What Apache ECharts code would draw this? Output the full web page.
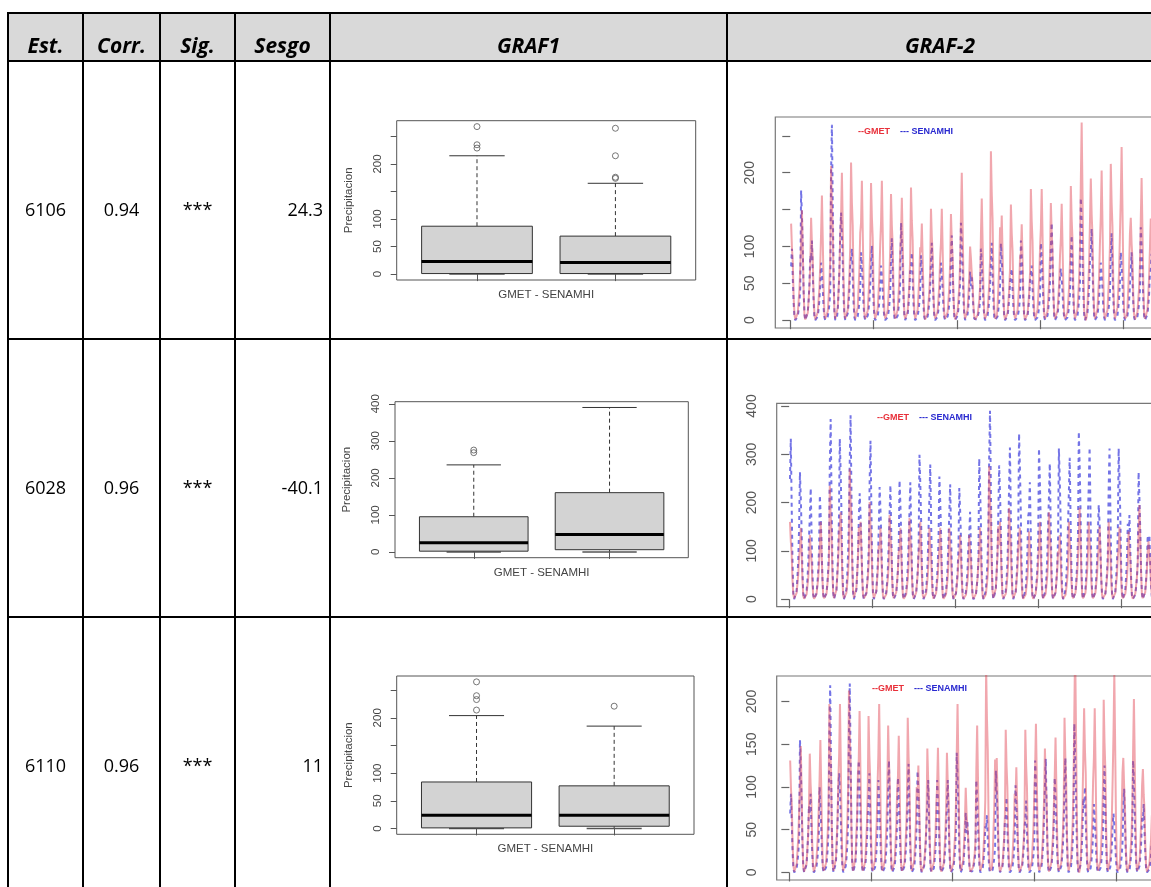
<!DOCTYPE html>
<html><head><meta charset="utf-8">
<script src="https://cdn.jsdelivr.net/npm/echarts@6/dist/echarts.min.js"></script>
<style>html,body{margin:0;padding:0;background:#fff;overflow:hidden;}#c{width:1300px;height:887px;}</style>
</head><body><div id="c"></div>
<script>
// ---------- table content ----------
const headers = ['Est.', 'Corr.', 'Sig.', 'Sesgo', 'GRAF1', 'GRAF-2'];
const stations = ['6106', '6028', '6110'];
const corr = ['0.94', '0.96', '0.96'];
const sig = ['***', '***', '***'];
const sesgo = ['24.3', '-40.1', '11'];

// ---------- GRAF1: boxplot stats [min, Q1, median, Q3, upper whisker] ----------
const boxNames = ['GMET', 'SENAMHI'];
const box1 = [[0, 1, 23, 87, 215], [0, 1, 21, 69, 165]];
const outliers1 = [[268, 235, 229], [265, 215, 176, 174]];
const box2 = [[0, 2, 25, 95, 235], [0, 6, 47, 160, 390]];
const outliers2 = [[275, 268], []];
const box3 = [[0, 1, 24, 84, 204], [0, 4, 24, 77, 185]];
const outliers3 = [[265, 240, 233, 214], [221]];

const boxTicks1 = [0, 50, 100, 150, 200, 250];
const boxLabels1 = [0, 50, 100, 200];
const boxTicks2 = [0, 100, 200, 300, 400];
const boxLabels2 = [0, 100, 200, 300, 400];
const boxTicks3 = [0, 50, 100, 150, 200, 250];
const boxLabels3 = [0, 50, 100, 200];

// ---------- GRAF-2: monthly series (visible part) ----------
const tsTicksX = [0, 100, 200, 300, 400];
const tsTicks1 = [0, 50, 100, 150, 200, 250];
const tsLabels1 = [0, 50, 100, 200];
const tsTicks2 = [0, 100, 200, 300, 400];
const tsLabels2 = [0, 100, 200, 300, 400];
const tsTicks3 = [0, 50, 100, 150, 200];
const tsLabels3 = [0, 50, 100, 150, 200];

const gmet1 = [
131,98,79,33,8,1,0,3,10,26,42,72,
104,149,97,42,7,1,0,3,10,27,45,75,
139,104,83,35,8,1,0,3,11,28,44,76,
118,169,110,47,8,2,0,3,12,30,51,85,
209,157,125,52,13,2,0,4,17,42,67,115,
140,200,130,56,10,2,0,4,14,36,60,100,
214,160,128,54,13,2,0,4,17,43,68,118,
132,189,123,53,9,2,0,4,13,34,57,95,
186,140,112,47,11,2,0,4,15,37,60,102,
132,189,123,53,9,2,0,4,13,34,57,95,
171,128,103,43,10,2,0,3,14,34,55,94,
116,166,108,46,8,2,0,3,12,30,50,83,
180,135,108,45,11,2,0,4,14,36,58,99,
92,131,85,37,7,1,0,3,9,24,39,66,
151,113,91,38,9,2,0,3,12,30,48,83,
106,151,98,42,8,2,0,3,11,27,45,76,
144,108,86,36,9,1,0,3,12,29,46,79,
140,200,130,56,10,2,0,4,14,36,60,100,
84,63,50,21,5,1,0,2,7,17,27,46,
116,165,107,46,8,2,0,3,12,30,50,83,
229,172,137,57,14,2,0,5,18,46,73,126,
99,142,92,40,7,1,0,3,10,26,43,71,
157,118,94,39,9,2,0,3,13,31,50,86,
91,130,85,36,7,1,0,3,9,23,39,65,
178,134,107,45,11,2,0,4,14,36,57,98,
125,178,116,50,9,2,0,4,12,32,53,89,
159,119,95,40,10,2,0,3,13,32,51,87,
111,158,103,44,8,2,0,3,11,28,47,79,
182,137,109,46,11,2,0,4,15,36,58,100,
188,268,174,75,13,3,0,5,19,48,80,134,
192,144,115,48,12,2,0,4,15,38,61,106,
142,203,132,57,10,2,0,4,14,37,61,102,
212,159,127,53,13,2,0,4,17,42,68,117,
165,235,153,66,12,2,0,5,16,42,71,118,
139,104,83,35,8,1,0,3,11,28,44,76,
135,193,125,54,10,2,0,4,14,35,58,97,
138,104,83,35,8,1,0,3,11,28,44,76
];
const senamhi1 = [
73,97,58,24,4,0,0,1,5,14,24,44,
176,141,97,39,9,0,0,2,11,26,49,88,
81,108,65,27,4,0,0,1,5,15,27,49,
78,62,43,17,4,0,0,1,5,12,22,39,
199,265,159,66,11,0,0,3,13,37,66,119,
146,117,80,32,7,0,0,1,9,22,41,73,
73,97,58,24,4,0,0,1,5,14,24,44,
92,74,51,20,5,0,0,1,6,14,26,46,
76,101,61,25,4,0,0,1,5,14,25,45,
74,59,41,16,4,0,0,1,4,11,21,37,
83,111,67,28,4,0,0,1,6,16,28,50,
132,106,73,29,7,0,0,1,8,20,37,66,
69,92,55,23,4,0,0,1,5,13,23,41,
88,70,48,19,4,0,0,1,5,13,25,44,
79,105,63,26,4,0,0,1,5,15,26,47,
78,62,43,17,4,0,0,1,5,12,22,39,
86,115,69,29,5,0,0,1,6,16,29,52,
132,106,73,29,7,0,0,1,8,20,37,66,
46,61,37,15,2,0,0,1,3,9,15,27,
97,78,53,21,5,0,0,1,6,15,27,49,
79,105,63,26,4,0,0,1,5,15,26,47,
104,83,57,23,5,0,0,1,6,16,29,52,
53,70,42,18,3,0,0,1,4,10,18,32,
108,86,59,24,5,0,0,1,6,16,30,54,
56,74,44,19,3,0,0,1,4,10,19,33,
105,84,58,23,5,0,0,1,6,16,29,53,
99,132,79,33,5,0,0,1,7,18,33,59,
70,56,39,15,4,0,0,1,4,11,20,35,
86,115,69,29,5,0,0,1,6,16,29,52,
166,133,91,37,8,0,0,2,10,25,46,83,
93,124,74,31,5,0,0,1,6,17,31,56,
78,62,43,17,4,0,0,1,5,12,22,39,
89,118,71,30,5,0,0,1,6,17,30,53,
92,74,51,20,5,0,0,1,6,14,26,46,
69,92,55,23,4,0,0,1,5,13,23,41,
126,101,69,28,6,0,0,1,8,19,35,63,
68,90,54,23,4,0,0,1,5,13,23,41
];
const gmet2 = [
160,120,96,40,10,2,0,3,13,32,51,88,
104,148,96,41,7,1,0,3,10,27,44,74,
133,100,80,33,8,1,0,3,11,27,43,73,
112,160,104,45,8,2,0,3,11,29,48,80,
235,176,141,59,14,2,0,5,19,47,75,129,
126,180,117,50,9,2,0,4,13,32,54,90,
270,203,162,68,16,3,0,5,22,54,86,149,
112,160,104,45,8,2,0,3,11,29,48,80,
201,151,121,50,12,2,0,4,16,40,64,111,
104,148,96,41,7,1,0,3,10,27,44,74,
174,131,104,44,10,2,0,3,14,35,56,96,
104,148,96,41,7,1,0,3,10,27,44,74,
168,126,101,42,10,2,0,3,13,34,54,92,
112,160,104,45,8,2,0,3,11,29,48,80,
148,111,89,37,9,1,0,3,12,30,47,81,
104,148,96,41,7,1,0,3,10,27,44,74,
148,111,89,37,9,1,0,3,12,30,47,81,
93,133,86,37,7,1,0,3,9,24,40,67,
133,100,80,33,8,1,0,3,11,27,43,73,
104,148,96,41,7,1,0,3,10,27,44,74,
275,206,165,69,17,3,0,6,22,55,88,151,
112,160,104,45,8,2,0,3,11,29,48,80,
189,142,113,47,11,2,0,4,15,38,60,104,
104,148,96,41,7,1,0,3,10,27,44,74,
140,105,84,35,8,1,0,3,11,28,45,77,
112,160,104,45,8,2,0,3,11,29,48,80,
180,135,108,45,11,2,0,4,14,36,58,99,
93,133,86,37,7,1,0,3,9,24,40,67,
160,120,96,40,10,2,0,3,13,32,51,88,
132,189,123,53,9,2,0,4,13,34,57,95,
160,120,96,40,10,2,0,3,13,32,51,88,
105,150,98,42,8,2,0,3,11,27,45,75,
160,120,96,40,10,2,0,3,13,32,51,88,
105,150,98,42,8,2,0,3,11,27,45,75,
140,105,84,35,8,1,0,3,11,28,45,77,
137,195,127,55,10,2,0,4,14,35,59,98,
120,90,72,30,7,1,0,2,10,24,38,66
];
const senamhi2 = [
249,332,199,83,13,0,0,3,17,46,83,149,
263,210,145,58,13,0,0,3,16,39,74,132,
173,230,138,58,9,0,0,2,12,32,58,104,
215,172,118,47,11,0,0,2,13,32,60,108,
280,373,224,93,15,0,0,4,19,52,93,168,
332,266,183,73,17,0,0,3,20,50,93,166,
286,381,229,95,15,0,0,4,19,53,95,171,
219,175,120,48,11,0,0,2,13,33,61,110,
246,328,197,82,13,0,0,3,16,46,82,148,
232,186,128,51,12,0,0,2,14,35,65,116,
177,236,142,59,9,0,0,2,12,33,59,106,
246,197,135,54,12,0,0,2,15,37,69,123,
182,242,145,61,10,0,0,2,12,34,61,109,
299,239,164,66,15,0,0,3,18,45,84,150,
209,279,167,70,11,0,0,3,14,39,70,126,
254,203,140,56,13,0,0,3,15,38,71,127,
179,238,143,60,10,0,0,2,12,33,60,107,
230,184,127,51,12,0,0,2,14,35,64,115,
136,181,109,45,7,0,0,2,9,25,45,81,
291,233,160,64,15,0,0,3,17,44,81,146,
293,390,234,98,16,0,0,4,20,55,98,176,
277,222,152,61,14,0,0,3,17,42,78,139,
236,314,188,79,13,0,0,3,16,44,79,141,
343,274,189,75,17,0,0,3,21,51,96,172,
182,242,145,61,10,0,0,2,12,34,61,109,
312,250,172,69,16,0,0,3,19,47,87,156,
211,281,169,70,11,0,0,3,14,39,70,126,
312,250,172,69,16,0,0,3,19,47,87,156,
220,293,176,73,12,0,0,3,15,41,73,132,
347,278,191,76,17,0,0,3,21,52,97,174,
236,314,188,79,13,0,0,3,16,44,79,141,
195,156,107,43,10,0,0,2,12,29,55,98,
234,312,187,78,12,0,0,3,16,44,78,140,
312,250,172,69,16,0,0,3,19,47,87,156,
131,174,104,44,7,0,0,2,9,24,44,78,
263,210,145,58,13,0,0,3,16,39,74,132,
100,133,80,33,5,0,0,1,7,19,33,60
];
const gmet3 = [
131,98,79,33,8,1,0,3,10,26,42,72,
104,148,96,41,7,1,0,3,10,27,44,74,
139,104,83,35,8,1,0,3,11,28,44,76,
109,155,101,43,8,2,0,3,11,28,47,78,
197,148,118,49,12,2,0,4,16,39,63,108,
138,197,128,55,10,2,0,4,14,35,59,99,
213,160,128,53,13,2,0,4,17,43,68,117,
132,189,123,53,9,2,0,4,13,34,57,95,
183,137,110,46,11,2,0,4,15,37,59,101,
138,197,128,55,10,2,0,4,14,35,59,99,
172,129,103,43,10,2,0,3,14,34,55,95,
112,160,104,45,8,2,0,3,11,29,48,80,
181,136,109,45,11,2,0,4,14,36,58,100,
88,125,81,35,6,1,0,3,9,23,38,63,
145,109,87,36,9,1,0,3,12,29,46,80,
102,146,95,41,7,1,0,3,10,26,44,73,
140,105,84,35,8,1,0,3,11,28,45,77,
138,197,128,55,10,2,0,4,14,35,59,99,
70,53,42,18,4,1,0,1,6,14,22,39,
120,172,112,48,9,2,0,3,12,31,52,86,
240,180,144,60,14,2,0,5,19,48,77,132,
94,134,87,38,7,1,0,3,9,24,40,67,
167,125,100,42,10,2,0,3,13,33,53,92,
86,123,80,34,6,1,0,2,9,22,37,62,
167,125,100,42,10,2,0,3,13,33,53,92,
122,174,113,49,9,2,0,3,12,31,52,87,
145,109,87,36,9,1,0,3,12,29,46,80,
111,158,103,44,8,2,0,3,11,28,47,79,
181,136,109,45,11,2,0,4,14,36,58,100,
186,265,172,74,13,3,0,5,19,48,80,133,
192,144,115,48,12,2,0,4,15,38,61,106,
134,192,125,54,10,2,0,4,13,35,58,96,
202,152,121,51,12,2,0,4,16,40,65,111,
163,233,151,65,12,2,0,5,16,42,70,117,
134,101,80,34,8,1,0,3,11,27,43,74,
142,203,132,57,10,2,0,4,14,37,61,102,
121,91,73,30,7,1,0,2,10,24,39,67
];
const senamhi3 = [
69,92,55,23,4,0,0,1,5,13,23,41,
155,124,85,34,8,0,0,2,9,23,43,78,
69,92,55,23,4,0,0,1,5,13,23,41,
100,80,55,22,5,0,0,1,6,15,28,50,
164,219,131,55,9,0,0,2,11,31,55,99,
116,93,64,26,6,0,0,1,7,17,32,58,
166,221,133,55,9,0,0,2,11,31,55,99,
131,105,72,29,7,0,0,1,8,20,37,66,
87,116,70,29,5,0,0,1,6,16,29,52,
108,86,59,24,5,0,0,1,6,16,30,54,
98,131,79,33,5,0,0,1,7,18,33,59,
111,89,61,24,6,0,0,1,7,17,31,56,
95,127,76,32,5,0,0,1,6,18,32,57,
119,95,65,26,6,0,0,1,7,18,33,60,
81,108,65,27,4,0,0,1,5,15,27,49,
108,86,59,24,5,0,0,1,6,16,30,54,
81,108,65,27,4,0,0,1,5,15,27,49,
140,112,77,31,7,0,0,1,8,21,39,70,
46,61,37,15,2,0,0,1,3,9,15,27,
108,86,59,24,5,0,0,1,6,16,30,54,
50,67,40,17,3,0,0,1,3,9,17,30,
119,95,65,26,6,0,0,1,7,18,33,60,
66,88,53,22,4,0,0,1,4,12,22,40,
102,82,56,22,5,0,0,1,6,15,29,51,
63,84,50,21,3,0,0,1,4,12,21,38,
131,105,72,29,7,0,0,1,8,20,37,66,
100,133,80,33,5,0,0,1,7,19,33,60,
111,89,61,24,6,0,0,1,7,17,31,56,
101,134,80,34,5,0,0,1,7,19,34,60,
174,139,96,38,9,0,0,2,10,26,49,87,
75,100,60,25,4,0,0,1,5,14,25,45,
80,64,44,18,4,0,0,1,5,12,22,40,
94,125,75,31,5,0,0,1,6,18,31,56,
69,55,38,15,3,0,0,1,4,10,19,35,
74,98,59,25,4,0,0,1,5,14,25,44,
131,105,72,29,7,0,0,1,8,20,37,66,
60,80,48,20,3,0,0,1,4,11,20,36
];

// ---------- layout ----------
const chart = echarts.init(document.getElementById('c'), null, {renderer: 'canvas'});
const AX = '#444';
const CHART_FONT = 'Liberation Sans, Arial, sans-serif';
const TABLE_FONT = 'Open Sans, Noto Sans, sans-serif';

const boxGrids = [
  {left: 396.7, top: 120.7, width: 299, height: 159.3},
  {left: 395, top: 401.7, width: 293.3, height: 156},
  {left: 396.7, top: 676, width: 297.3, height: 158.3}
];
const tsGrids = [
  {left: 775.3, top: 117, scale: 0.8325, xmin: -18, height: 211},
  {left: 776.7, top: 403.3, scale: 0.83, xmin: -15, height: 203.4},
  {left: 776.7, top: 676, scale: 0.8165, xmin: -15.5, height: 204}
];
const TS_XMAX = 500;

const boxSets = [
  {stats: box1, outs: outliers1, ticks: boxTicks1, labels: boxLabels1},
  {stats: box2, outs: outliers2, ticks: boxTicks2, labels: boxLabels2},
  {stats: box3, outs: outliers3, ticks: boxTicks3, labels: boxLabels3}
];
const tsSets = [
  {g: gmet1, s: senamhi1, ticks: tsTicks1, labels: tsLabels1},
  {g: gmet2, s: senamhi2, ticks: tsTicks2, labels: tsLabels2},
  {g: gmet3, s: senamhi3, ticks: tsTicks3, labels: tsLabels3}
];

const grid = [], xAxis = [], yAxis = [], series = [];

boxSets.forEach((b, i) => {
  const gb = boxGrids[i];
  grid.push({left: gb.left, top: gb.top, width: gb.width, height: gb.height, show: true,
    borderColor: '#555', borderWidth: 1, backgroundColor: 'transparent'});
  let mx = 0;
  b.stats.forEach((s, j) => { mx = Math.max(mx, s[4], ...b.outs[j]); });
  xAxis.push({type: 'value', gridIndex: i, min: 0.42, max: 2.58,
    axisLine: {show: false}, splitLine: {show: false},
    axisTick: {show: true, length: 7, customValues: [1, 2], lineStyle: {color: '#555'}},
    axisLabel: {show: false},
    name: 'GMET - SENAMHI', nameLocation: 'middle', nameGap: 9,
    nameTextStyle: {color: AX, fontSize: 11.5, fontFamily: CHART_FONT, verticalAlign: 'top'}});
  yAxis.push({type: 'value', gridIndex: i, min: -0.04 * mx, max: 1.04 * mx,
    axisLine: {show: false}, splitLine: {show: false},
    axisTick: {show: true, length: 6, customValues: b.ticks, lineStyle: {color: '#555'}},
    axisLabel: {show: true, customValues: b.labels, rotate: 90, margin: 13, color: AX,
      fontSize: 11.5, fontFamily: CHART_FONT},
    name: 'Precipitacion', nameLocation: 'middle', nameGap: 42, nameRotate: 90,
    nameTextStyle: {color: AX, fontSize: 11.5, fontFamily: CHART_FONT}});
  const boxData = b.stats.map((s, j) => [j + 1].concat(s));
  series.push({type: 'custom', xAxisIndex: i, yAxisIndex: i, silent: true, animation: false,
    encode: {x: 0, y: [1, 2, 3, 4, 5]},
    data: boxData,
    renderItem: function (params, api) {
      const x = api.value(0), mn = api.value(1), q1 = api.value(2), md = api.value(3),
        q3 = api.value(4), mxv = api.value(5);
      const hw = 0.4, cw = 0.2;
      const P = (a, v) => api.coord([a, v]);
      const line = (p1, p2, st) => ({type: 'line', shape: {x1: p1[0], y1: p1[1], x2: p2[0], y2: p2[1]}, style: st});
      const dashed = {stroke: '#333', lineWidth: 1, lineDash: [4, 3]};
      const solid = {stroke: '#333', lineWidth: 1};
      const tl = P(x - hw, q3), br = P(x + hw, q1);
      return {type: 'group', children: [
        line(P(x, q3), P(x, mxv), dashed),
        line(P(x, q1), P(x, mn), dashed),
        line(P(x - cw, mxv), P(x + cw, mxv), solid),
        line(P(x - cw, mn), P(x + cw, mn), {stroke: '#555', lineWidth: 1.5}),
        {type: 'rect', shape: {x: tl[0], y: tl[1], width: br[0] - tl[0], height: br[1] - tl[1]},
          style: {fill: '#d3d3d3', stroke: '#333', lineWidth: 1}},
        line(P(x - hw, md), P(x + hw, md), {stroke: '#000', lineWidth: 3})
      ]};
    }});
  const outData = [];
  b.outs.forEach((arr, j) => arr.forEach(v => outData.push([j + 1, v])));
  series.push({type: 'scatter', xAxisIndex: i, yAxisIndex: i, silent: true, animation: false,
    data: outData, symbol: 'circle', symbolSize: 6, z: 5,
    itemStyle: {color: 'rgba(255,255,255,0)', borderColor: '#555', borderWidth: 1}});
});

tsSets.forEach((t, i) => {
  const gi = i + 3;
  const g = tsGrids[i];
  grid.push({left: g.left, top: g.top, width: (TS_XMAX - g.xmin) * g.scale, height: g.height,
    show: true, borderColor: '#777', borderWidth: 1.2, backgroundColor: 'transparent'});
  const mx = Math.max(...t.s);
  xAxis.push({type: 'value', gridIndex: gi, min: g.xmin, max: TS_XMAX,
    axisLine: {show: false}, splitLine: {show: false},
    axisTick: {show: true, length: 9, customValues: tsTicksX, lineStyle: {color: '#666', width: 1.2}},
    axisLabel: {show: false}});
  yAxis.push({type: 'value', gridIndex: gi, min: -0.04 * mx, max: 1.04 * mx,
    axisLine: {show: false}, splitLine: {show: false},
    axisTick: {show: true, length: 8, customValues: t.ticks, lineStyle: {color: '#666', width: 1.2}},
    axisLabel: {show: true, customValues: t.labels, rotate: 90, margin: 18, color: '#555',
      fontSize: 14, fontFamily: CHART_FONT}});
  series.push({type: 'line', name: 'SENAMHI', xAxisIndex: gi, yAxisIndex: gi, silent: true,
    animation: false, showSymbol: false, symbol: 'none', clip: true,
    data: t.s.map((v, k) => [k + 1, v]),
    lineStyle: {color: 'rgba(30,30,215,0.62)', width: 2, type: [4, 4]}});
  series.push({type: 'line', name: 'GMET', xAxisIndex: gi, yAxisIndex: gi, silent: true,
    animation: false, showSymbol: false, symbol: 'none', clip: true,
    data: t.g.map((v, k) => [k + 1, v]),
    lineStyle: {color: 'rgba(225,60,75,0.45)', width: 2}});
});

// ---------- table graphics ----------
const colX = [8, 83, 160, 235, 330, 727];
const rowY = [13, 61, 339, 617];
const rowTextY = [211, 489, 767];
const headerCenters = [45.5, 121.5, 197.5, 282.5, 528.5, 940];
const graphic = [];
graphic.push({type: 'rect', z: -10, shape: {x: 8, y: 13, width: 1292, height: 48},
  style: {fill: '#d9d9d9'}, silent: true});
rowY.forEach(y => graphic.push({type: 'line', z: 50, silent: true,
  shape: {x1: 7, y1: y, x2: 1300, y2: y}, style: {stroke: '#000', lineWidth: 2}}));
colX.forEach(x => graphic.push({type: 'line', z: 50, silent: true,
  shape: {x1: x, y1: 12, x2: x, y2: 887}, style: {stroke: '#000', lineWidth: 2}}));
headers.forEach((h, i) => graphic.push({type: 'text', z: 60, silent: true,
  style: {text: h, x: headerCenters[i], y: 47, align: 'center', verticalAlign: 'middle',
    font: 'italic bold 21px ' + TABLE_FONT, fill: '#000'}}));
for (let r = 0; r < 3; r++) {
  const y = rowTextY[r];
  const cellStyle = (text, x, align) => ({type: 'text', z: 60, silent: true,
    style: {text, x, y, align, verticalAlign: 'middle', font: '18px ' + TABLE_FONT, fill: '#000'}});
  graphic.push(cellStyle(stations[r], 45.5, 'center'));
  graphic.push(cellStyle(corr[r], 121.5, 'center'));
  graphic.push(cellStyle(sig[r], 197.5, 'center'));
  graphic.push(cellStyle(sesgo[r], 323, 'right'));
}
// GRAF-2 legends
const legendPos = [[858, 132], [877, 418], [872, 689]];
legendPos.forEach(p => {
  graphic.push({type: 'text', z: 60, silent: true, style: {text: '--GMET', x: p[0], y: p[1],
    verticalAlign: 'middle', font: 'bold 9px ' + CHART_FONT, fill: '#e8303a'}});
  graphic.push({type: 'text', z: 60, silent: true, style: {text: '--- SENAMHI', x: p[0] + 42, y: p[1],
    verticalAlign: 'middle', font: 'bold 9px ' + CHART_FONT, fill: '#2a2ad0'}});
});

chart.setOption({
  animation: false,
  backgroundColor: '#fff',
  grid, xAxis, yAxis, series, graphic
});
</script>
</body></html>
